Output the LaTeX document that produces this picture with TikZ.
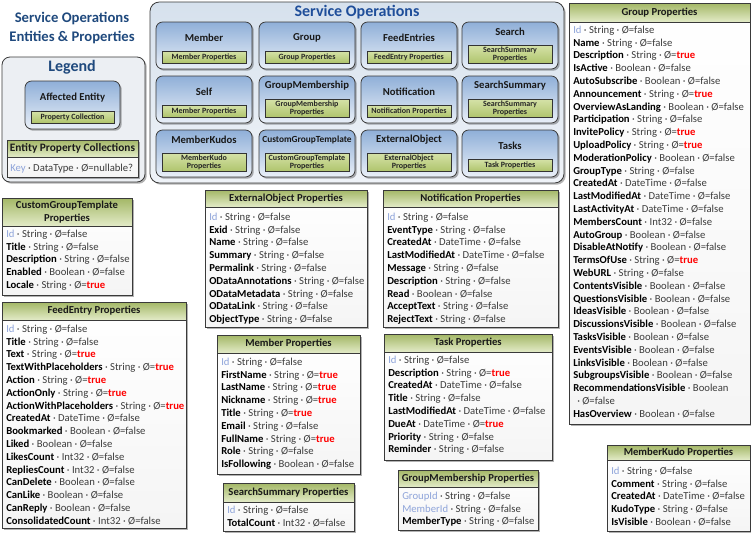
\documentclass[tikz,border=0pt]{standalone}
\usepackage{fontspec}
\setmainfont{Carlito}
\usetikzlibrary{shadows}
\definecolor{keyblue}{HTML}{8EA4DA}
\definecolor{dtype}{HTML}{3C3C3C}
\definecolor{truered}{HTML}{FF0000}
\definecolor{titleblue}{HTML}{1F497D}
\definecolor{sotitle}{HTML}{1F4E9A}
\definecolor{hdtop}{HTML}{A3B766}
\definecolor{hdbot}{HTML}{E3EBC8}
\definecolor{gbtop}{HTML}{D5E2A8}
\definecolor{gbbot}{HTML}{AFC46C}
\definecolor{entop}{HTML}{8FAFD8}
\definecolor{enbot}{HTML}{EAF0F8}
\definecolor{bgtop}{HTML}{D6E1ED}
\definecolor{bgbot}{HTML}{EFF3F8}
\definecolor{lgfill}{HTML}{ECEFF3}
\definecolor{edge}{HTML}{3A3A3A}
\newcommand\rK[2]{\textcolor{keyblue}{#1} · #2 · Ø=false}
\newcommand\rF[2]{\textcolor{black}{\textbf{#1}} · #2 · Ø=false}
\newcommand\rT[2]{\textcolor{black}{\textbf{#1}} · #2 · Ø=\textcolor{truered}{\textbf{true}}}
\tikzset{
  shad/.style={drop shadow={shadow xshift=1.3pt,shadow yshift=-1.3pt,opacity=0.3,fill=black}},
  tbody/.style={shad,top color=white,bottom color=white!92!gray},
  thead/.style={top color=hdtop,bottom color=hdbot},
  edgeline/.style={draw=edge,line width=0.6pt},
  headtxt/.style={inner sep=0pt,align=center,text=black!90,font=\bfseries\fontsize{8}{9.2}\selectfont},
  rowtxt/.style={anchor=base west,inner sep=0pt,text=dtype,font=\fontsize{8}{9.6}\selectfont},
  entbox/.style={shad,draw=edge,line width=0.6pt,rounded corners=5pt,top color=entop,bottom color=enbot},
  gbox/.style={draw=black!80,line width=0.6pt,top color=gbtop,bottom color=gbbot},
  gtxt/.style={inner sep=0pt,align=center,text=black!85,font=\bfseries\fontsize{6}{6.4}\selectfont},
  enttitle/.style={inner sep=0pt,text=black!90},
}
\newcommand\ptab[9]{%
  \path[tbody] (#2,#3) rectangle (#4,#5);
  \path[thead] (#2,#3) rectangle (#4,#6);
  \draw[edgeline] (#2,#3) rectangle (#4,#5);
  \draw[edgeline] (#2,#6) -- (#4,#6);
  \node[headtxt] (#1-h) at ({(#2+#4)/2},{(#3+#6)/2}) {#7};
  \foreach \rw [count=\i] in {#9}
    \node[rowtxt] (#1-\i) at ({#2+4},{#8+3.3+(\i-1)*12.8}) {\rw};
}
\newcommand\ent[7]{%
  \path[entbox] (#2,#3) rectangle ++(96,47);
  \ifnum#7=1
    \node[enttitle,font=\bfseries\fontsize{#5}{#5}\selectfont] (#1) at ({#2+48},{#3+16}) {#4};
    \path[gbox] ({#2+6},{#3+29}) rectangle ({#2+90},{#3+41});
    \node[gtxt] (#1-g) at ({#2+48},{#3+35}) {#6};
  \else
    \node[enttitle,font=\bfseries\fontsize{#5}{#5}\selectfont] (#1) at ({#2+48},{#3+10}) {#4};
    \path[gbox] ({#2+6},{#3+23}) rectangle ({#2+90},{#3+41.5});
    \node[gtxt] (#1-g) at ({#2+48},{#3+32.25}) {#6};
  \fi
}
\begin{document}
\begin{tikzpicture}[x=0.75pt,y=-0.75pt]
\useasboundingbox (0,0) rectangle (751,533);
% Title
\node[inner sep=0pt,align=center,text=titleblue,font=\bfseries\fontsize{11}{14.5}\selectfont] (title) at (72,28) {Service Operations\\Entities \& Properties};
% Legend
\path[shad,draw=edge,line width=0.6pt,rounded corners=6pt,fill=lgfill] (2,57) rectangle (145,182);
\node[inner sep=0pt,text=titleblue,font=\bfseries\fontsize{12}{12}\selectfont] (legend) at (72,67) {Legend};
\path[entbox] (25,81) rectangle (120,129);
\node[enttitle,font=\bfseries\fontsize{8}{8}\selectfont] (affected) at (72.5,98) {Affected Entity};
\path[gbox] (31,111) rectangle (114,123);
\node[gtxt] (propcoll) at (72.5,117) {Property Collection};
\path[tbody] (7,140) rectangle (138,177);
\path[thead] (7,140) rectangle (138,157);
\draw[edgeline] (7,140) rectangle (138,177);
\draw[edgeline] (7,157) -- (138,157);
\node[inner sep=0pt,text=black!90,font=\bfseries\fontsize{8.5}{9}\selectfont] (epc) at (72.5,148.5) {Entity Property Collections};
\node[rowtxt] (keyrow) at (10,171.3) {\textcolor{keyblue}{Key} · DataType · Ø=nullable?};
% Service operations
\path[shad,draw=edge,line width=0.6pt,rounded corners=7pt,top color=bgtop,bottom color=bgbot] (150,2) rectangle (564,183);
\node[inner sep=0pt,text=sotitle,font=\bfseries\fontsize{12}{12}\selectfont] (sotitle) at (357,12) {Service Operations};
\ent{eMember}{156}{22}{Member}{8}{Member Properties}{1}
\ent{eGroup}{259}{22}{Group}{8}{Group Properties}{1}
\ent{eFeed}{361}{22}{FeedEntries}{8}{FeedEntry Properties}{1}
\ent{eSearch}{462}{22}{Search}{8}{SearchSummary\\Properties}{2}
\ent{eSelf}{156}{76}{Self}{8}{Member Properties}{1}
\ent{eGM}{259}{76}{GroupMembership}{8}{GroupMembership\\Properties}{2}
\ent{eNotif}{361}{76}{Notification}{8}{Notification Properties}{1}
\ent{eSS}{462}{76}{SearchSummary}{8}{SearchSummary\\Properties}{2}
\ent{eKudos}{156}{130}{MemberKudos}{8}{MemberKudo\\Properties}{2}
\ent{eCGT}{259}{130}{CustomGroupTemplate}{7}{CustomGroupTemplate\\Properties}{2}
\ent{eExt}{361}{130}{ExternalObject}{8}{ExternalObject\\Properties}{2}
\ent{eTasks}{462}{130}{Tasks}{8}{Task Properties}{1}
% Tables
\ptab{grp}{569}{3}{750}{424}{22}{Group Properties}{30}{\rK{Id}{String},\rF{Name}{String},\rT{Description}{String},\rF{IsActive}{Boolean},\rF{AutoSubscribe}{Boolean},\rT{Announcement}{String},\rF{OverviewAsLanding}{Boolean},\rF{Participation}{String},\rT{InvitePolicy}{String},\rT{UploadPolicy}{String},\rF{ModerationPolicy}{Boolean},\rF{GroupType}{String},\rF{CreatedAt}{DateTime},\rF{LastModifiedAt}{DateTime},\rF{LastActivityAt}{DateTime},\rF{MembersCount}{Int32},\rF{AutoGroup}{Boolean},\rF{DisableAtNotify}{Boolean},\rT{TermsOfUse}{String},\rF{WebURL}{String},\rF{ContentsVisible}{Boolean},\rF{QuestionsVisible}{Boolean},\rF{IdeasVisible}{Boolean},\rF{DiscussionsVisible}{Boolean},\rF{TasksVisible}{Boolean},\rF{EventsVisible}{Boolean},\rF{LinksVisible}{Boolean},\rF{SubgroupsVisible}{Boolean},{\textcolor{black}{\textbf{RecommendationsVisible}} · Boolean},{\hspace{3pt}· Ø=false},\rF{HasOverview}{Boolean}}
\ptab{cgt}{2}{198}{132}{295}{226}{CustomGroupTemplate\\Properties}{234}{\rK{Id}{String},\rF{Title}{String},\rF{Description}{String},\rF{Enabled}{Boolean},\rT{Locale}{String}}
\ptab{feed}{2}{302}{186}{528}{320}{FeedEntry Properties}{329}{\rK{Id}{String},\rF{Title}{String},\rT{Text}{String},\rT{TextWithPlaceholders}{String},\rT{Action}{String},\rT{ActionOnly}{String},\rT{ActionWithPlaceholders}{String},\rF{CreatedAt}{DateTime},\rF{Bookmarked}{Boolean},\rF{Liked}{Boolean},\rF{LikesCount}{Int32},\rF{RepliesCount}{Int32},\rF{CanDelete}{Boolean},\rF{CanLike}{Boolean},\rF{CanReply}{Boolean},\rF{ConsolidatedCount}{Int32}}
\ptab{ext}{205}{190}{367}{327}{207}{ExternalObject Properties}{217}{\rK{Id}{String},\rF{Exid}{String},\rF{Name}{String},\rF{Summary}{String},\rF{Permalink}{String},\rF{ODataAnnotations}{String},\rF{ODataMetadata}{String},\rF{ODataLink}{String},\rF{ObjectType}{String}}
\ptab{notif}{383}{190}{558}{327}{207}{Notification Properties}{217}{\rK{Id}{String},\rF{EventType}{String},\rF{CreatedAt}{DateTime},\rF{LastModifiedAt}{DateTime},\rF{Message}{String},\rF{Description}{String},\rF{Read}{Boolean},\rF{AcceptText}{String},\rF{RejectText}{String}}
\ptab{mem}{217}{335}{360}{474}{353}{Member Properties}{362}{\rK{Id}{String},\rT{FirstName}{String},\rT{LastName}{String},\rT{Nickname}{String},\rT{Title}{String},\rF{Email}{String},\rT{FullName}{String},\rF{Role}{String},\rF{IsFollowing}{Boolean}}
\ptab{ss}{223}{483}{354}{531}{502}{SearchSummary Properties}{510}{\rK{Id}{String},\rF{TotalCount}{Int32}}
\ptab{task}{384}{334}{552}{460}{352}{Task Properties}{360}{\rK{Id}{String},\rT{Description}{String},\rF{CreatedAt}{DateTime},\rF{Title}{String},\rF{LastModifiedAt}{DateTime},\rT{DueAt}{DateTime},\rF{Priority}{String},\rF{Reminder}{String}}
\ptab{gm}{398}{470}{538}{530}{487}{GroupMembership Properties}{496}{\rK{GroupId}{String},\rK{MemberId}{String},\rF{MemberType}{String}}
\ptab{kudo}{607}{445}{750}{531}{460}{MemberKudo Properties}{471}{\rK{Id}{String},\rF{Comment}{String},\rF{CreatedAt}{DateTime},\rF{KudoType}{String},\rF{IsVisible}{Boolean}}
\end{tikzpicture}
\end{document}
